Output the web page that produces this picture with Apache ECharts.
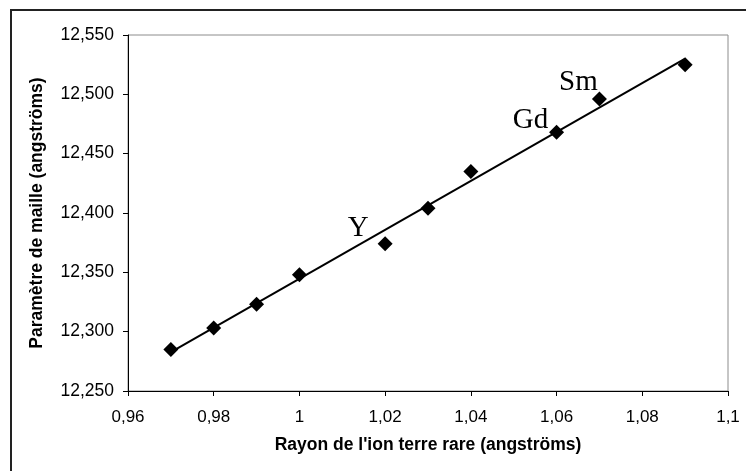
<!DOCTYPE html>
<html>
<head>
<meta charset="utf-8">
<script src="https://cdn.jsdelivr.net/npm/echarts@6/dist/echarts.min.js"></script>
<style>
  html, body { margin: 0; padding: 0; background: #fff; }
  #chart { width: 746px; height: 471px; }
</style>
</head>
<body>
<div id="chart"></div>
<script>
// Ionic radius of the rare-earth ion (Å)
const radius = [0.97, 0.98, 0.99, 1.00, 1.02, 1.03, 1.04, 1.06, 1.07, 1.09];
// Lattice parameter (Å)
const latticeParam = [12.285, 12.303, 12.323, 12.348, 12.374, 12.404, 12.435, 12.468, 12.496, 12.525];
// Element tags written next to some points
const elementTags = ['', '', '', '', 'Y', '', '', 'Gd', 'Sm', ''];

const xTicks = { min: 0.96, max: 1.1, interval: 0.02 };
const yTicks = { min: 12.25, max: 12.55, interval: 0.05 };

// Least-squares fit for the straight trend line
function linearFit(xs, ys) {
  const n = xs.length;
  const mx = xs.reduce((a, b) => a + b, 0) / n;
  const my = ys.reduce((a, b) => a + b, 0) / n;
  let sxy = 0, sxx = 0;
  for (let i = 0; i < n; i++) {
    sxy += (xs[i] - mx) * (ys[i] - my);
    sxx += (xs[i] - mx) * (xs[i] - mx);
  }
  const slope = sxy / sxx;
  return { slope, intercept: my - slope * mx };
}
const fit = linearFit(radius, latticeParam);
const xLo = Math.min(...radius), xHi = Math.max(...radius);
const trend = [[xLo, fit.intercept + fit.slope * xLo], [xHi, fit.intercept + fit.slope * xHi]];

const frNum = (v, d) => {
  const s = d === undefined ? String(+v.toFixed(4)) : v.toFixed(d);
  return s.replace('.', ',');
};

// Tag offsets relative to their point
const tagOffset = { Y: [-27, -15], Gd: [-26, -12], Sm: [-21, -17] };

const points = radius.map((x, i) => {
  const item = { value: [x, latticeParam[i]] };
  const tag = elementTags[i];
  if (tag) {
    item.label = { show: true, formatter: tag, position: 'inside', offset: tagOffset[tag] };
  }
  return item;
});

const chart = echarts.init(document.getElementById('chart'), null, { renderer: 'canvas' });
const sans = 'Liberation Sans, Arial, sans-serif';

chart.setOption({
  animation: false,
  backgroundColor: '#fff',
  graphic: [{
    type: 'rect',
    shape: { x: 11, y: 10, width: 800, height: 520 },
    style: { fill: 'none', stroke: '#222', lineWidth: 2 },
    silent: true,
    z: -1
  }],
  grid: {
    left: 128, right: 18, top: 35, bottom: 80,
    show: true, borderColor: '#8c8c8c', borderWidth: 1, backgroundColor: 'transparent'
  },
  xAxis: {
    type: 'value',
    min: xTicks.min, max: xTicks.max, interval: xTicks.interval,
    name: "Rayon de l'ion terre rare (angströms)",
    nameLocation: 'middle', nameGap: 45,
    nameTextStyle: { fontFamily: sans, fontWeight: 'bold', fontSize: 17.5, color: '#000' },
    axisLine: { lineStyle: { color: '#000', width: 1 } },
    axisTick: { show: true, inside: false, length: 5, lineStyle: { color: '#000' } },
    axisLabel: { fontFamily: sans, fontSize: 17, color: '#000', margin: 18, formatter: v => frNum(v) },
    splitLine: { show: false }
  },
  yAxis: {
    type: 'value',
    min: yTicks.min, max: yTicks.max, interval: yTicks.interval,
    name: 'Paramètre de maille (angströms)',
    nameLocation: 'middle', nameGap: 82, nameRotate: 90,
    nameTextStyle: { fontFamily: sans, fontWeight: 'bold', fontSize: 17.5, color: '#000' },
    axisLine: { show: true, lineStyle: { color: '#000', width: 1 } },
    axisTick: { show: true, inside: false, length: 5, lineStyle: { color: '#000' } },
    axisLabel: { fontFamily: sans, fontSize: 17.5, color: '#000', margin: 14, formatter: v => frNum(v, 3) },
    splitLine: { show: false }
  },
  series: [
    {
      type: 'line',
      data: trend,
      symbol: 'none',
      lineStyle: { color: '#000', width: 2 },
      z: 2
    },
    {
      type: 'scatter',
      data: points,
      symbol: 'diamond',
      symbolSize: [15, 15],
      itemStyle: { color: '#000', opacity: 1 },
      label: {
        fontFamily: 'Liberation Serif, Times New Roman, serif',
        fontSize: 29,
        color: '#000'
      },
      z: 3
    }
  ]
});
</script>
</body>
</html>
